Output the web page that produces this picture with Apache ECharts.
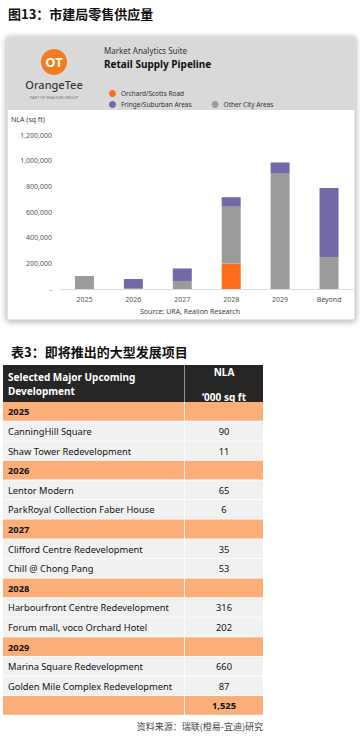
<!DOCTYPE html>
<html lang="zh">
  <head>
    <meta charset="UTF-8" />
    <title>市建局零售供应量</title>
    <script src="https://cdn.jsdelivr.net/npm/echarts@6/dist/echarts.min.js"></script>
    <style>
      html, body { margin: 0; padding: 0; background: #fff; }
      #main { width: 360px; height: 736px; }
    </style>
  </head>
  <body>
    <div id="main"></div>
    <script>
      // 图表数据
      const years = ["2025", "2026", "2027", "2028", "2029", "Beyond"];
      const orchard = [0, 0, 0, 198000, 0, 0];
      const otherCity = [101000, 8000, 62000, 444000, 904000, 249000];
      const fringe = [0, 70000, 98000, 73000, 82000, 538000];
      const yTicks = [0, 200000, 400000, 600000, 800000, 1000000, 1200000];

      // 表格数据
      const tableYears = ["2025", "2026", "2027", "2028", "2029"];
      const projectNames = [
        ["CanningHill Square", "Shaw Tower Redevelopment"],
        ["Lentor Modern", "ParkRoyal Collection Faber House"],
        ["Clifford Centre Redevelopment", "Chill @ Chong Pang"],
        ["Harbourfront Centre Redevelopment", "Forum mall, voco Orchard Hotel"],
        ["Marina Square Redevelopment", "Golden Mile Complex Redevelopment"],
      ];
      const projectNla = [
        ["90", "11"],
        ["65", "6"],
        ["35", "53"],
        ["316", "202"],
        ["660", "87"],
      ];
      const totalNla = "1,525";

      const ORANGE = "#FF6B1A";
      const PURPLE = "#7468A8";
      const GREY = "#9B9B9B";
      const BAND = "#FBAE78";
      const ROWBG = "#F1F1F1";
      const latin = "'Noto Sans', 'Open Sans', sans-serif";
      const cjk = "'Noto Sans CJK SC', sans-serif";

      const graphics = [];

      // 卡片背景和标题区
      graphics.push({
        type: "rect", z: -10,
        shape: { x: 7, y: 37, width: 348, height: 283 },
        style: { fill: "#fff", stroke: "#c8c8c8", lineWidth: 1, shadowBlur: 6, shadowColor: "rgba(0,0,0,0.35)", shadowOffsetY: 1 },
      });
      graphics.push({
        type: "rect", z: -9,
        shape: { x: 7.5, y: 37.5, width: 347, height: 72.5 },
        style: { fill: "#D9D9D9" },
      });
      graphics.push({
        type: "circle", z: 1,
        shape: { cx: 54, cy: 62, r: 13 },
        style: { fill: "#F47B20" },
      });
      graphics.push({
        type: "text", z: 2, x: 54, y: 62,
        style: { text: "OT", fill: "#fff", font: "bold 13px " + latin, align: "center", verticalAlign: "middle" },
      });
      graphics.push({
        type: "text", z: 2, x: 54, y: 84,
        style: { text: "OrangeTee", fill: "#3a3a3a", font: "500 11px " + latin, align: "center", verticalAlign: "middle" },
      });
      graphics.push({
        type: "text", z: 2, x: 54, y: 97,
        style: { text: "PART OF REALION GROUP", fill: "#777", font: "4px " + latin, align: "center", verticalAlign: "middle" },
      });
      graphics.push({
        type: "text", z: 2, x: 104, y: 50,
        style: { text: "Market Analytics Suite", fill: "#333", font: "8px " + latin, verticalAlign: "middle" },
      });
      graphics.push({
        type: "text", z: 2, x: 104, y: 64,
        style: { text: "Retail Supply Pipeline", fill: "#111", font: "bold 10px " + latin, verticalAlign: "middle" },
      });
      graphics.push({
        type: "text", z: 2, x: 11, y: 119,
        style: { text: "NLA (sq ft)", fill: "#444", font: "7px " + latin, verticalAlign: "middle" },
      });
      graphics.push({
        type: "text", z: 2, x: 190, y: 311,
        style: { text: "Source: URA, Realion Research", fill: "#444", font: "7px " + latin, align: "center", verticalAlign: "middle" },
      });

      // 标题
      graphics.push({
        type: "text", x: 8, y: 13,
        style: { text: "图13：市建局零售供应量", fill: "#111", font: "bold 13px " + cjk, verticalAlign: "middle" },
      });
      graphics.push({
        type: "text", x: 11, y: 351,
        style: { text: "表3：即将推出的大型发展项目", fill: "#111", font: "bold 13px " + cjk, verticalAlign: "middle" },
      });

      // 表格
      const tx0 = 3, tx1 = 184, tx2 = 263;
      const rowH = 19.6;
      graphics.push({ type: "rect", shape: { x: tx0, y: 365, width: tx1 - tx0, height: 37 }, style: { fill: "#262626" } });
      graphics.push({ type: "rect", shape: { x: tx1 + 0.5, y: 365, width: tx2 - tx1 - 0.5, height: 37 }, style: { fill: "#262626" } });
      const hStyle = (text, align) => ({
        text: text, fill: "#fff", fontFamily: latin, fontWeight: "bold", fontSize: 10,
        align: align || "left", verticalAlign: "middle",
      });
      graphics.push({ type: "text", x: 8, y: 377, style: hStyle("Selected Major Upcoming") });
      graphics.push({ type: "text", x: 8, y: 391, style: hStyle("Development") });
      graphics.push({ type: "text", x: 224, y: 372, style: hStyle("NLA", "center") });
      graphics.push({ type: "text", x: 224, y: 397, style: hStyle("‘000 sq ft", "center") });

      let y = 402;
      const addRow = (left, right, fill, bold) => {
        const f = (bold ? "bold " : "") + "9.3px " + latin;
        graphics.push({ type: "rect", shape: { x: tx0, y: y, width: tx1 - tx0, height: rowH - 0.8 }, style: { fill: fill } });
        graphics.push({ type: "rect", shape: { x: tx1 + 0.8, y: y, width: tx2 - tx1 - 0.8, height: rowH - 0.8 }, style: { fill: fill } });
        if (left) graphics.push({ type: "text", x: 8, y: y + rowH / 2, style: { text: left, fill: "#111", font: f, verticalAlign: "middle" } });
        if (right) graphics.push({ type: "text", x: 224, y: y + rowH / 2, style: { text: right, fill: "#111", font: f, align: "center", verticalAlign: "middle" } });
        y += rowH;
      };
      tableYears.forEach((yr, i) => {
        addRow(yr, "", BAND, true);
        projectNames[i].forEach((name, j) => addRow(name, projectNla[i][j], ROWBG, false));
      });
      addRow("", totalNla, BAND, true);

      graphics.push({
        type: "text", x: 263, y: 726,
        style: { text: "资料来源：瑞联(橙易-宜迪)研究", fill: "#444", font: "9px " + cjk, align: "right", verticalAlign: "middle" },
      });

      const chart = echarts.init(document.getElementById("main"), null, { renderer: "svg" });
      chart.setOption({
        animation: false,
        backgroundColor: "#fff",
        graphic: graphics,
        legend: [
          {
            data: ["Orchard/Scotts Road"],
            left: 104, top: 85,
            icon: "circle", itemWidth: 7, itemHeight: 7,
            textStyle: { fontSize: 6.5, color: "#333", fontFamily: latin },
          },
          {
            data: ["Fringe/Suburban Areas", "Other City Areas"],
            left: 104, top: 96,
            icon: "circle", itemWidth: 7, itemHeight: 7, itemGap: 20,
            textStyle: { fontSize: 6.5, color: "#333", fontFamily: latin },
          },
        ],
        grid: { left: 60, right: 6.5, top: 135, bottom: 447 },
        xAxis: {
          type: "category",
          data: years,
          axisLine: { lineStyle: { color: "#ddd" } },
          axisTick: { show: false },
          axisLabel: { fontSize: 7, color: "#555", fontFamily: latin, margin: 7 },
        },
        yAxis: {
          type: "value",
          min: yTicks[0],
          max: yTicks[yTicks.length - 1],
          interval: yTicks[1] - yTicks[0],
          splitLine: { show: false },
          axisLine: { show: false },
          axisTick: { show: false },
          axisLabel: {
            fontSize: 7, color: "#555", fontFamily: latin, margin: 8,
            formatter: (v) => (v === 0 ? "-" : v.toLocaleString("en-US")),
          },
        },
        series: [
          { name: "Orchard/Scotts Road", type: "bar", stack: "s", barWidth: 19, data: orchard, itemStyle: { color: ORANGE } },
          { name: "Other City Areas", type: "bar", stack: "s", barWidth: 19, data: otherCity, itemStyle: { color: GREY } },
          { name: "Fringe/Suburban Areas", type: "bar", stack: "s", barWidth: 19, data: fringe, itemStyle: { color: PURPLE } },
        ],
      });
    </script>
  </body>
</html>
